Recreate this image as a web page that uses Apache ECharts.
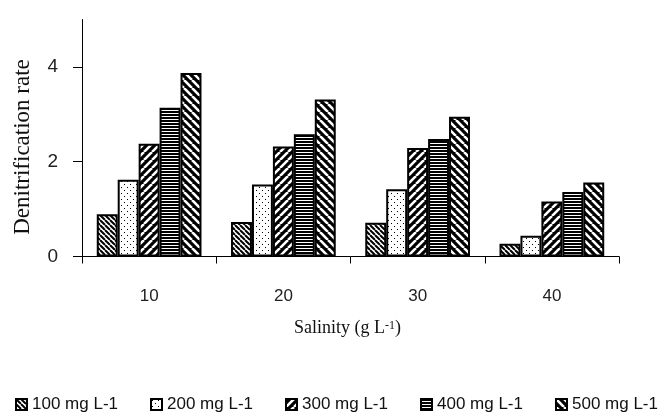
<!DOCTYPE html>
<html><head><meta charset="utf-8">
<script src="https://cdn.jsdelivr.net/npm/echarts@6/dist/echarts.min.js"></script>
<style>html,body{margin:0;padding:0;background:#fff}#c{width:668px;height:418px}</style>
</head><body><div id="c"></div>
<script>
const categories = ['10', '20', '30', '40'];
const seriesNames = ['100 mg L-1', '200 mg L-1', '300 mg L-1', '400 mg L-1', '500 mg L-1'];
const s100 = [0.89, 0.73, 0.71, 0.27];
const s200 = [1.62, 1.52, 1.42, 0.44];
const s300 = [2.38, 2.32, 2.29, 1.16];
const s400 = [3.14, 2.58, 2.48, 1.36];
const s500 = [3.87, 3.31, 2.95, 1.56];
const yTicks = [0, 2, 4];

function stripes(bg, fg, size, lw, dir) {
  const c = document.createElement('canvas');
  c.width = size; c.height = size;
  const x = c.getContext('2d');
  x.fillStyle = bg; x.fillRect(0, 0, size, size);
  x.strokeStyle = fg; x.lineWidth = lw; x.beginPath();
  for (let k = -1; k <= 1; k++) {
    if (dir === '/') { x.moveTo(k * size, size); x.lineTo(k * size + size, 0); }
    else { x.moveTo(k * size, 0); x.lineTo(k * size + size, size); }
  }
  x.stroke();
  return { image: c, repeat: 'repeat' };
}
function dots() {
  const c = document.createElement('canvas');
  c.width = 6; c.height = 6;
  const x = c.getContext('2d');
  x.fillStyle = '#fff'; x.fillRect(0, 0, 6, 6);
  x.fillStyle = '#000';
  x.fillRect(1, 1, 1, 1); x.fillRect(4, 4, 1, 1);
  return { image: c, repeat: 'repeat' };
}
function hlines() {
  const c = document.createElement('canvas');
  c.width = 4; c.height = 3;
  const x = c.getContext('2d');
  x.fillStyle = '#000'; x.fillRect(0, 0, 4, 3);
  x.fillStyle = '#fff'; x.fillRect(0, 2, 4, 1);
  return { image: c, repeat: 'repeat' };
}
const fills = [
  stripes('#fff', '#000', 5, 2, '\\'),
  dots(),
  stripes('#000', '#fff', 8, 2.6, '/'),
  hlines(),
  stripes('#000', '#fff', 8, 2.6, '\\')
];
const values = [s100, s200, s300, s400, s500];

const chart = echarts.init(document.getElementById('c'), null, { renderer: 'canvas' });
chart.setOption({
  animation: false,
  backgroundColor: '#fff',
  grid: { left: 82, right: 49, top: 19.5, bottom: 161.5, containLabel: false },
  legend: {
    data: seriesNames,
    left: 15, top: 396, width: 660, padding: 0,
    icon: 'rect', itemWidth: 11, itemHeight: 11, itemGap: 32,
    textStyle: { fontFamily: 'Liberation Sans', fontSize: 17, color: '#111' }
  },
  xAxis: {
    type: 'category', data: categories,
    axisLine: { lineStyle: { color: '#000', width: 1 } },
    axisTick: { show: true, length: 7, inside: false, lineStyle: { color: '#000' } },
    axisLabel: { margin: 31, fontFamily: 'Liberation Sans', fontSize: 17, color: '#222' },
    name: 'Salinity (g L{sup|-1})',
    nameLocation: 'middle', nameGap: 63,
    nameTextStyle: {
      fontFamily: 'Liberation Serif', fontSize: 18, color: '#111', padding: [0, 6, 0, 0],
      rich: { sup: { fontFamily: 'Liberation Serif', fontSize: 12, color: '#111', verticalAlign: 'top', padding: [0, 0, 6, 0] } }
    }
  },
  yAxis: {
    type: 'value', min: 0, max: 5, interval: 1,
    splitLine: { show: false },
    axisLine: { show: true, lineStyle: { color: '#000', width: 1 } },
    axisTick: { show: true, length: 9, customValues: yTicks, lineStyle: { color: '#000' } },
    axisLabel: { margin: 24, customValues: yTicks, fontFamily: 'Liberation Sans', fontSize: 19, color: '#222' },
    name: 'Denitrification rate',
    nameLocation: 'middle', nameGap: 48,
    nameTextStyle: { fontFamily: 'Liberation Serif', fontSize: 23, color: '#111', padding: [0, 18, 0, 0] }
  },
  series: values.map((v, i) => ({
    name: seriesNames[i], type: 'bar', data: v,
    barGap: '0%', barCategoryGap: '22%',
    itemStyle: { color: fills[i], borderColor: '#000', borderWidth: 2 },
    emphasis: { disabled: true }
  }))
});
</script>
</body></html>
